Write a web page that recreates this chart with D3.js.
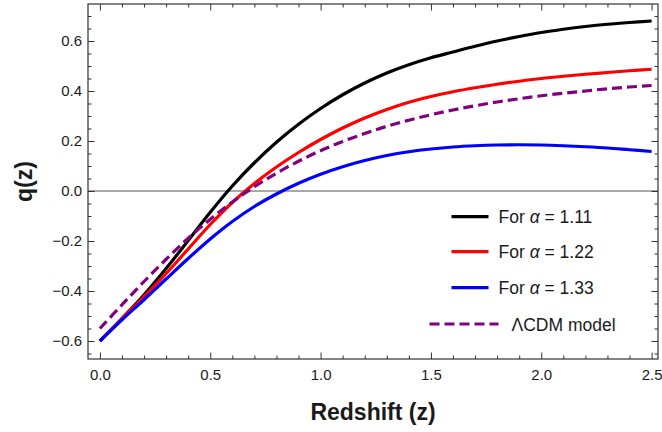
<!DOCTYPE html>
<html>
<head>
<meta charset="utf-8">
<script src="https://cdn.jsdelivr.net/npm/d3@7"></script>
<style>
  body { margin: 0; background: #fff; }
  svg { display: block; font-family: "Liberation Sans", Arial, sans-serif; }
</style>
</head>
<body>
<svg width="662" height="432"></svg>
<script>
// redshift grid shared by all curves
const zValues = [0, 0.1, 0.2, 0.3, 0.4, 0.5, 0.6, 0.7, 0.8, 0.9, 1.0, 1.1, 1.2,
                 1.3, 1.4, 1.5, 1.6, 1.7, 1.8, 1.9, 2.0, 2.1, 2.2, 2.3, 2.4, 2.5];

// q(z)
const qAlpha111 = [-0.60, -0.51, -0.415, -0.31, -0.198, -0.085, 0.02, 0.113, 0.195, 0.267, 0.33,
                   0.385, 0.432, 0.472, 0.505, 0.533, 0.556, 0.579, 0.60, 0.618, 0.634, 0.647,
                   0.658, 0.667, 0.674, 0.68];
const qAlpha122 = [-0.60, -0.51, -0.422, -0.33, -0.232, -0.134, -0.046, 0.03, 0.096, 0.154, 0.206,
                   0.252, 0.292, 0.326, 0.355, 0.378, 0.397, 0.413, 0.427, 0.439, 0.45, 0.459,
                   0.467, 0.474, 0.481, 0.487];
const qAlpha133 = [-0.60, -0.515, -0.435, -0.352, -0.27, -0.192, -0.122, -0.062, -0.012, 0.031, 0.067,
                   0.097, 0.122, 0.142, 0.157, 0.168, 0.176, 0.181, 0.184, 0.185, 0.184, 0.181,
                   0.177, 0.172, 0.165, 0.158];
const qLCDM = [-0.55, -0.455, -0.362, -0.273, -0.189, -0.113, -0.044, 0.017, 0.071, 0.119, 0.161,
               0.198, 0.230, 0.259, 0.283, 0.305, 0.324, 0.341, 0.356, 0.369, 0.381, 0.391,
               0.400, 0.409, 0.416, 0.422];

const seriesNames = ["For α = 1.11", "For α = 1.22", "For α = 1.33", "ΛCDM model"];
const seriesValues = [qAlpha111, qAlpha122, qAlpha133, qLCDM];
const seriesColors = ["#000000", "#ff0000", "#0000ff", "#800080"];
const seriesDash = [null, null, null, "10,5"];

const xMajor = [0, 0.5, 1.0, 1.5, 2.0, 2.5];
const yMajor = [-0.6, -0.4, -0.2, 0.0, 0.2, 0.4, 0.6];

const svg = d3.select("svg");
const plotLeft = 88, plotRight = 658, plotTop = 4, plotBottom = 359;

const x = d3.scaleLinear().domain([-0.054, 2.529]).range([plotLeft, plotRight]);
const y = d3.scaleLinear().domain([-0.672, 0.748]).range([plotBottom, plotTop]);

const xMinor = d3.range(0, 2.501, 0.1).filter(v => !xMajor.some(m => Math.abs(m - v) < 1e-6));
const yMinor = d3.range(-0.65, 0.701, 0.05).filter(v => !yMajor.some(m => Math.abs(m - v) < 1e-6));

// zero line
svg.append("line")
    .attr("x1", plotLeft).attr("x2", plotRight)
    .attr("y1", y(0)).attr("y2", y(0))
    .attr("stroke", "#555").attr("stroke-width", 1.2);

// axes: ticks pointing inward on all four sides
function styleAxis(g) {
    g.select(".domain").remove();
    g.selectAll(".tick line").attr("stroke", "#333");
    g.selectAll(".tick text").attr("fill", "#1a1a1a").style("font-size", "15px")
        .style("font-family", "'Liberation Sans', Arial, sans-serif");
}

svg.append("g").attr("transform", `translate(0,${plotBottom})`)
    .call(d3.axisBottom(x).tickValues(xMajor).tickSize(-6.5).tickPadding(10).tickFormat(d3.format(".1f")))
    .call(styleAxis);
svg.append("g").attr("transform", `translate(0,${plotBottom})`)
    .call(d3.axisBottom(x).tickValues(xMinor).tickSize(-3.5).tickFormat(""))
    .call(styleAxis);
svg.append("g").attr("transform", `translate(0,${plotTop})`)
    .call(d3.axisTop(x).tickValues(xMajor).tickSize(-6.5).tickFormat(""))
    .call(styleAxis);
svg.append("g").attr("transform", `translate(0,${plotTop})`)
    .call(d3.axisTop(x).tickValues(xMinor).tickSize(-3.5).tickFormat(""))
    .call(styleAxis);

svg.append("g").attr("transform", `translate(${plotLeft},0)`)
    .call(d3.axisLeft(y).tickValues(yMajor).tickSize(-6.5).tickPadding(6).tickFormat(d3.format(".1f")))
    .call(styleAxis);
svg.append("g").attr("transform", `translate(${plotLeft},0)`)
    .call(d3.axisLeft(y).tickValues(yMinor).tickSize(-3.5).tickFormat(""))
    .call(styleAxis);
svg.append("g").attr("transform", `translate(${plotRight},0)`)
    .call(d3.axisRight(y).tickValues(yMajor).tickSize(-6.5).tickFormat(""))
    .call(styleAxis);
svg.append("g").attr("transform", `translate(${plotRight},0)`)
    .call(d3.axisRight(y).tickValues(yMinor).tickSize(-3.5).tickFormat(""))
    .call(styleAxis);

// frame
svg.append("rect")
    .attr("x", plotLeft).attr("y", plotTop)
    .attr("width", plotRight - plotLeft).attr("height", plotBottom - plotTop)
    .attr("fill", "none").attr("stroke", "#333").attr("stroke-width", 1.2);

// curves
const line = d3.line()
    .x((d, i) => x(zValues[i]))
    .y(d => y(d))
    .curve(d3.curveCatmullRom);

// purple drawn last so the dashes sit on top
const order = [0, 1, 2, 3];
svg.append("g").selectAll("path")
    .data(order)
    .enter().append("path")
    .attr("d", i => line(seriesValues[i]))
    .attr("fill", "none")
    .attr("stroke", i => seriesColors[i])
    .attr("stroke-width", 3.2)
    .attr("stroke-dasharray", i => seriesDash[i]);

// legend
const legendRows = [216.7, 251.7, 287.7, 324];
const legend = svg.append("g");
seriesNames.forEach((name, i) => {
    const dashed = seriesDash[i] !== null;
    legend.append("line")
        .attr("x1", dashed ? 429.5 : 451.5)
        .attr("x2", dashed ? 498.5 : 488.5)
        .attr("y1", legendRows[i]).attr("y2", legendRows[i])
        .attr("stroke", seriesColors[i])
        .attr("stroke-width", 3.2)
        .attr("stroke-dasharray", seriesDash[i]);
    const t = legend.append("text")
        .attr("x", dashed ? 511.5 : 498.5)
        .attr("y", legendRows[i] + 6.5)
        .attr("fill", "#1a1a1a")
        .style("font-size", "17.5px");
    if (name.includes("α")) {
        const parts = name.split("α");
        t.append("tspan").text(parts[0]);
        t.append("tspan").style("font-style", "italic").text("α");
        t.append("tspan").text(parts[1]);
    } else {
        t.text(name);
    }
});

// axis titles
svg.append("text")
    .attr("x", (plotLeft + plotRight) / 2).attr("y", 419.5)
    .attr("text-anchor", "middle")
    .style("font-size", "23px").style("font-weight", "bold")
    .attr("fill", "#1a1a1a")
    .text("Redshift (z)");

svg.append("text")
    .attr("transform", `translate(32,${(plotTop + plotBottom) / 2}) rotate(-90)`)
    .attr("text-anchor", "middle")
    .style("font-size", "23px").style("font-weight", "bold")
    .attr("fill", "#1a1a1a")
    .text("q(z)");
</script>
</body>
</html>
